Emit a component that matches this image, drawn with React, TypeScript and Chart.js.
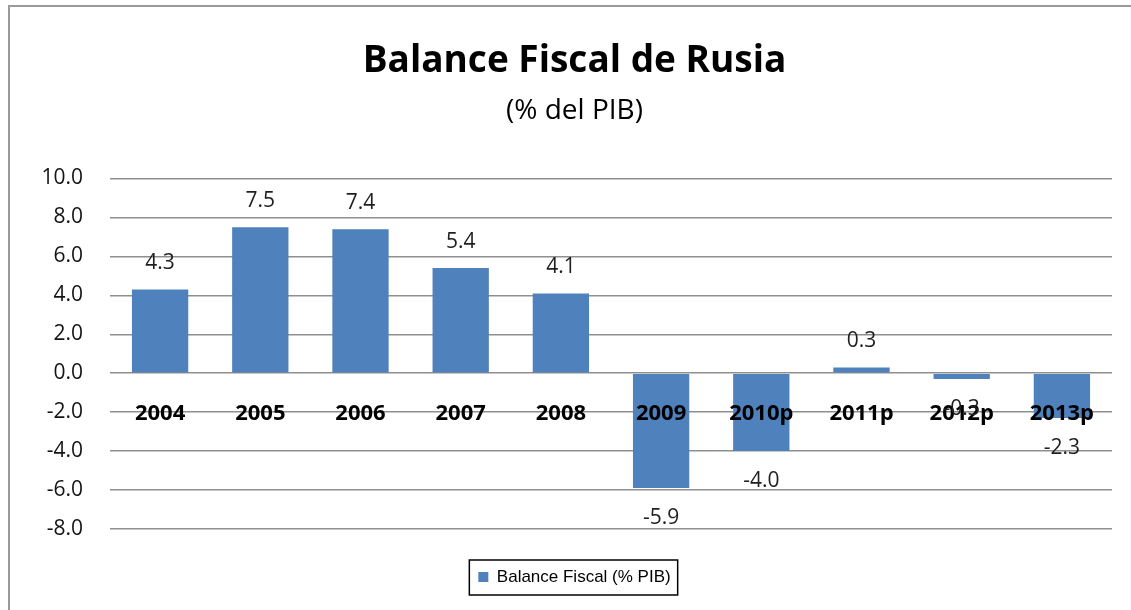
import React, { useEffect, useRef } from 'react';
import { Chart, registerables } from 'chart.js';

Chart.register(...registerables);

const categories = ['2004', '2005', '2006', '2007', '2008', '2009', '2010p', '2011p', '2012p', '2013p'];
const balanceValues = [4.3, 7.5, 7.4, 5.4, 4.1, -5.9, -4.0, 0.3, -0.3, -2.3];
const seriesLabel = 'Balance Fiscal (% PIB)';
const titleText = 'Balance Fiscal de Rusia';
const subtitleText = '(% del PIB)';
const yMin = -8;
const yMax = 10;
const yStep = 2;

const BAR_COLOR = '#4F81BD';
const GRID_COLOR = '#8f8f8f';
const FONT = '"Open Sans", sans-serif';

const framePlugin = {
  id: 'frame',
  beforeDraw(chart: any) {
    const { ctx, width, height } = chart;
    ctx.save();
    ctx.fillStyle = '#ffffff';
    ctx.fillRect(0, 0, width, height);
    ctx.fillStyle = '#9a9a9a';
    ctx.fillRect(8, 5, width - 8, 2);
    ctx.fillRect(8, 5, 2, height - 5);
    ctx.restore();
  },
};

const labelsPlugin = {
  id: 'barLabels',
  afterDatasetsDraw(chart: any) {
    const { ctx } = chart;
    const xScale = chart.scales.x;
    const yScale = chart.scales.y;
    const zeroY = yScale.getPixelForValue(0);
    ctx.save();
    ctx.textAlign = 'center';
    ctx.textBaseline = 'middle';
    // category labels next to the zero line
    ctx.font = `bold 22px ${FONT}`;
    ctx.fillStyle = '#000000';
    categories.forEach((c, i) => {
      ctx.fillText(c, xScale.getPixelForValue(i), zeroY + 40.5);
    });
    // value labels outside bar ends
    ctx.font = `21px ${FONT}`;
    ctx.fillStyle = '#1f1f1f';
    const meta = chart.getDatasetMeta(0);
    meta.data.forEach((bar: any, i: number) => {
      const v = balanceValues[i];
      const y = v >= 0 ? bar.y - 26 : bar.y + 30;
      ctx.fillText(v.toFixed(1), bar.x, y);
    });
    ctx.restore();
  },
};

const legendBorderPlugin = {
  id: 'legendBorder',
  afterDraw(chart: any) {
    const legend = chart.legend;
    if (!legend || !legend.legendHitBoxes || !legend.legendHitBoxes.length) return;
    const hb = legend.legendHitBoxes[0];
    const { ctx } = chart;
    ctx.save();
    ctx.strokeStyle = '#000000';
    ctx.lineWidth = 1.5;
    ctx.strokeRect(hb.left - 9, hb.top - 8.5, hb.width + 16, hb.height + 18);
    ctx.restore();
  },
};

export default function App() {
  const canvasRef = useRef<HTMLCanvasElement | null>(null);

  useEffect(() => {
    if (!canvasRef.current) return;
    const chart = new Chart(canvasRef.current, {
      type: 'bar',
      data: {
        labels: categories,
        datasets: [
          {
            label: seriesLabel,
            data: balanceValues,
            backgroundColor: BAR_COLOR,
            borderWidth: 0,
            categoryPercentage: 1,
            barPercentage: 0.562,
          },
        ],
      },
      options: {
        animation: false,
        responsive: false,
        devicePixelRatio: 1,
        layout: { padding: { left: 37, right: 19, top: 0, bottom: 14.5 } },
        plugins: {
          title: {
            display: true,
            text: titleText,
            color: '#000000',
            font: { family: FONT, size: 37, weight: 'bold', lineHeight: 1.2 },
            padding: { top: 39.5, bottom: 0 },
          },
          subtitle: {
            display: true,
            text: subtitleText,
            color: '#000000',
            font: { family: FONT, size: 28, weight: 'normal', lineHeight: 1.2 },
            padding: { top: 10, bottom: 51 },
          },
          legend: {
            display: true,
            position: 'bottom',
            labels: {
              boxWidth: 10,
              boxHeight: 10,
              padding: 39.5,
              color: '#000000',
              font: { family: '"Liberation Sans", Arial, sans-serif', size: 17 },
            },
          },
          tooltip: { enabled: false },
        },
        scales: {
          x: {
            type: 'category',
            display: false,
            grid: { display: false },
          },
          y: {
            min: yMin,
            max: yMax,
            afterFit(scale: any) {
              scale.width = 73;
            },
            border: { display: false },
            grid: {
              color: GRID_COLOR,
              lineWidth: 1.5,
              drawTicks: false,
            },
            ticks: {
              stepSize: yStep,
              padding: 27,
              color: '#141414',
              font: { family: FONT, size: 21 },
              callback: (v: any) => Number(v).toFixed(1),
            },
          },
        },
      },
      plugins: [framePlugin, labelsPlugin, legendBorderPlugin],
    });
    return () => chart.destroy();
  }, []);

  return (
    <div style={{ position: 'fixed', left: 0, top: 0, width: 1131, height: 610, background: '#fff' }}>
      <canvas ref={canvasRef} width={1131} height={610} style={{ display: 'block', width: 1131, height: 610 }} />
    </div>
  );
}
